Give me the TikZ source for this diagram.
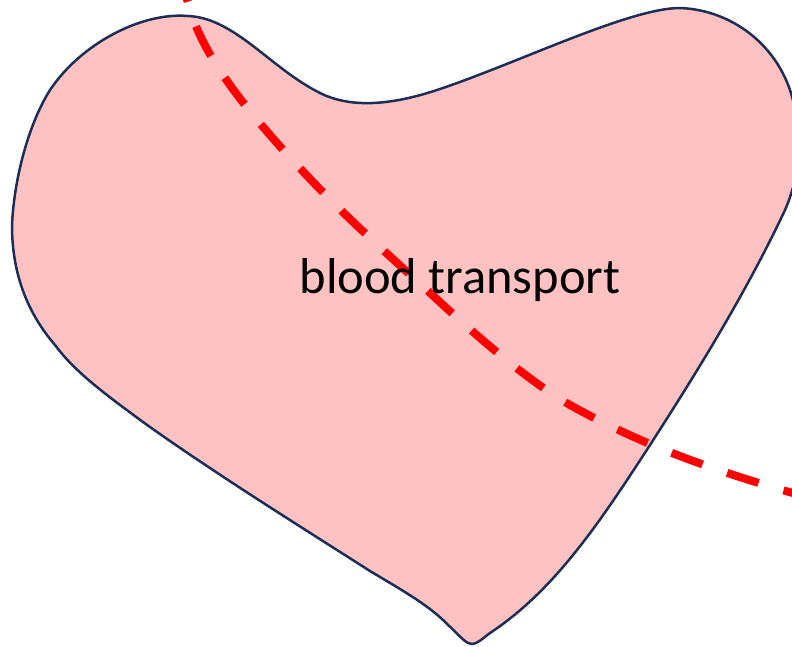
\documentclass[tikz,border=0pt]{standalone}
\usepackage{fontspec}
\setmainfont{Carlito}
\definecolor{heartfill}{RGB}{255,194,194}
\definecolor{heartline}{RGB}{28,46,86}
\definecolor{bloodred}{RGB}{255,0,0}
\begin{document}
\begin{tikzpicture}[
        x=1pt, y=-1pt,
        % Style for the organ outline
        heartShape/.style={
            draw=heartline,
            line width=2.5pt,
            fill=heartfill
        },
        % Style for the dashed vessel
        bloodPath/.style={
            draw=bloodred,
            line width=8pt,
            dash pattern=on 33pt off 26pt
        },
        transportLabel/.style={
            font=\fontsize{50.5}{56}\selectfont,
            text=black,
            inner sep=0pt
        }
    ]
    \useasboundingbox (0,0) rectangle (792,646);

    % Heart outline
    \begin{scope}
    \clip (0,0) rectangle (792,646);
    \path[heartShape] (188,16)
        .. controls (235,18) and (270,68) .. (320,93)
        .. controls (350,108) and (390,106) .. (440,89)
        .. controls (520,62) and (630,8) .. (680,8)
        .. controls (735,10) and (785,50) .. (795,110)
        .. controls (800,150) and (800,175) .. (785,210)
        .. controls (745,295) and (695,375) .. (650,445)
        .. controls (600,522) and (555,590) .. (490,633)
        .. controls (482,639) and (477,644) .. (472,644)
        .. controls (466,644) and (462,638) .. (443,620)
        .. controls (425,603) and (400,589) .. (370,571)
        .. controls (290,520) and (210,470) .. (143,422)
        .. controls (105,394) and (75,372) .. (55,345)
        .. controls (25,310) and (12,270) .. (12,225)
        .. controls (14,180) and (28,125) .. (50,90)
        .. controls (80,45) and (140,12) .. (188,16)
        -- cycle;

    % Vessel
    \path[bloodPath, dash phase=26pt] (186,-5)
        .. controls (198,50) and (240,105) .. (312,181)
        .. controls (355,226) and (400,265) .. (442,304)
        .. controls (490,348) and (540,390) .. (581,411)
        .. controls (640,443) and (710,470) .. (800,495);
    \end{scope}

    % Label
    \node[transportLabel] (bloodLabel) at (460,280) {blood transport};

\end{tikzpicture}
\end{document}
